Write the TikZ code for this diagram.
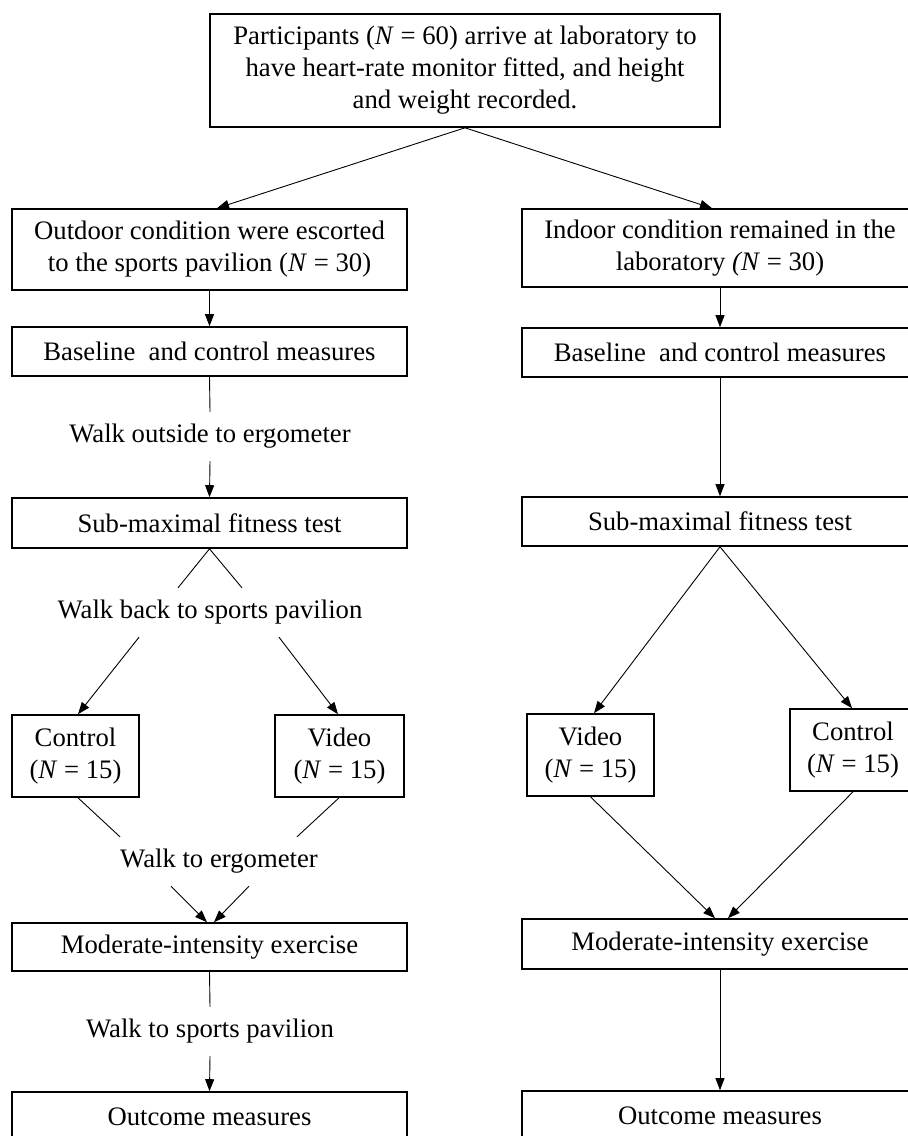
\documentclass[tikz,border=0pt]{standalone}
\usepackage{fontspec}
\setmainfont{Liberation Serif}
\usetikzlibrary{arrows.meta}
\begin{document}
\begin{tikzpicture}[x=1pt,y=-1pt,
  box/.style={draw, line width=1.6pt, inner sep=0pt, align=center, font=\fontsize{26.7}{32}\selectfont},
  lab/.style={inner sep=0pt, minimum height=49pt, font=\fontsize{26.7}{32}\selectfont},
  conn/.style={line width=0.9pt},
  arr/.style={conn, -{Triangle[length=12pt,width=9pt]}}]
\useasboundingbox (0,0) rectangle (908,1136);
\clip (0,0) rectangle (908,1136);
\fill[white] (0,0) rectangle (908,1136);
\node[box, minimum width=510pt, minimum height=113pt] (top) at (465,70.5) {Participants (\textit{N} = 60) arrive at laboratory to\\have heart-rate monitor fitted, and height\\and weight recorded.};
\node[box, minimum width=395pt, minimum height=81pt] (out) at (209.5,249.5) {Outdoor condition were escorted\\to the sports pavilion (\textit{N} = 30)};
\node[box, minimum width=396pt, minimum height=78pt] (in) at (720,248) {Indoor condition remained in the\\laboratory \textit{(N} = 30)};
\node[box, minimum width=395pt, minimum height=49pt] (baseL) at (209.5,351.5) {Baseline\ \ and control measures};
\node[box, minimum width=396pt, minimum height=49pt] (baseR) at (720,352.5) {Baseline\ \ and control measures};
\node[lab] (w1) at (210,436.5) {Walk outside to ergometer};
\node[box, minimum width=395pt, minimum height=50pt] (subL) at (209.5,523) {Sub-maximal fitness test};
\node[box, minimum width=396pt, minimum height=49pt] (subR) at (720,521.5) {Sub-maximal fitness test};
\node[lab] (w2) at (210,612.5) {Walk back to sports pavilion};
\node[box, minimum width=127pt, minimum height=82pt] (ctlL) at (75.5,756) {Control\\(\textit{N} = 15)};
\node[box, minimum width=129pt, minimum height=82pt] (vidL) at (339.5,756) {Video\\(\textit{N} = 15)};
\node[box, minimum width=127pt, minimum height=82pt] (vidR) at (590.5,755) {Video\\(\textit{N} = 15)};
\node[box, minimum width=126pt, minimum height=82pt] (ctlR) at (853,750) {Control\\(\textit{N} = 15)};
\node[lab] (w3) at (219,861.5) {Walk to ergometer};
\node[box, minimum width=395pt, minimum height=48pt] (modL) at (209.5,947) {Moderate-intensity exercise};
\node[box, minimum width=396pt, minimum height=50pt] (modR) at (720,944) {Moderate-intensity exercise};
\node[lab] (w4) at (210,1031.5) {Walk to sports pavilion};
\node[box, minimum width=395pt, minimum height=49pt] (outL) at (209.5,1116.5) {Outcome measures};
\node[box, minimum width=396pt, minimum height=49pt] (outR) at (720,1115.5) {Outcome measures};
\draw[arr] (top.south) -- ([xshift=7.5pt]out.north);
\draw[arr] (top.south) -- ([xshift=-8pt]in.north);
\draw[arr] (out.south) -- (baseL.north);
\draw[arr] (in.south) -- (baseR.north);
\draw[conn] (baseL.south) -- (w1.north);
\draw[arr] (w1.south) -- (subL.north);
\draw[arr] (baseR.south) -- (subR.north);
\draw[conn] (subL.south) -- ([xshift=-32pt]w2.north);
\draw[conn] (subL.south) -- ([xshift=32pt]w2.north);
\draw[arr] ([xshift=-71pt]w2.south) -- ([xshift=2.5pt]ctlL.north);
\draw[arr] ([xshift=69pt]w2.south) -- ([xshift=-1.5pt]vidL.north);
\draw[arr] (subR.south) -- ([xshift=3.5pt]vidR.north);
\draw[arr] (subR.south) -- ([xshift=-1pt]ctlR.north);
\draw[conn] ([xshift=2.5pt]ctlL.south) -- ([xshift=-99pt]w3.north);
\draw[conn] ([xshift=-0.5pt]vidL.south) -- ([xshift=78pt]w3.north);
\draw[arr] ([xshift=-48pt]w3.south) -- ([xshift=-2.5pt]modL.north);
\draw[arr] ([xshift=30pt]w3.south) -- ([xshift=4.5pt]modL.north);
\draw[conn] (modL.south) -- (w4.north);
\draw[arr] (w4.south) -- (outL.north);
\draw[arr] (vidR.south) -- ([xshift=-5pt]modR.north);
\draw[arr] (ctlR.south) -- ([xshift=8pt]modR.north);
\draw[arr] (modR.south) -- (outR.north);
\end{tikzpicture}
\end{document}
